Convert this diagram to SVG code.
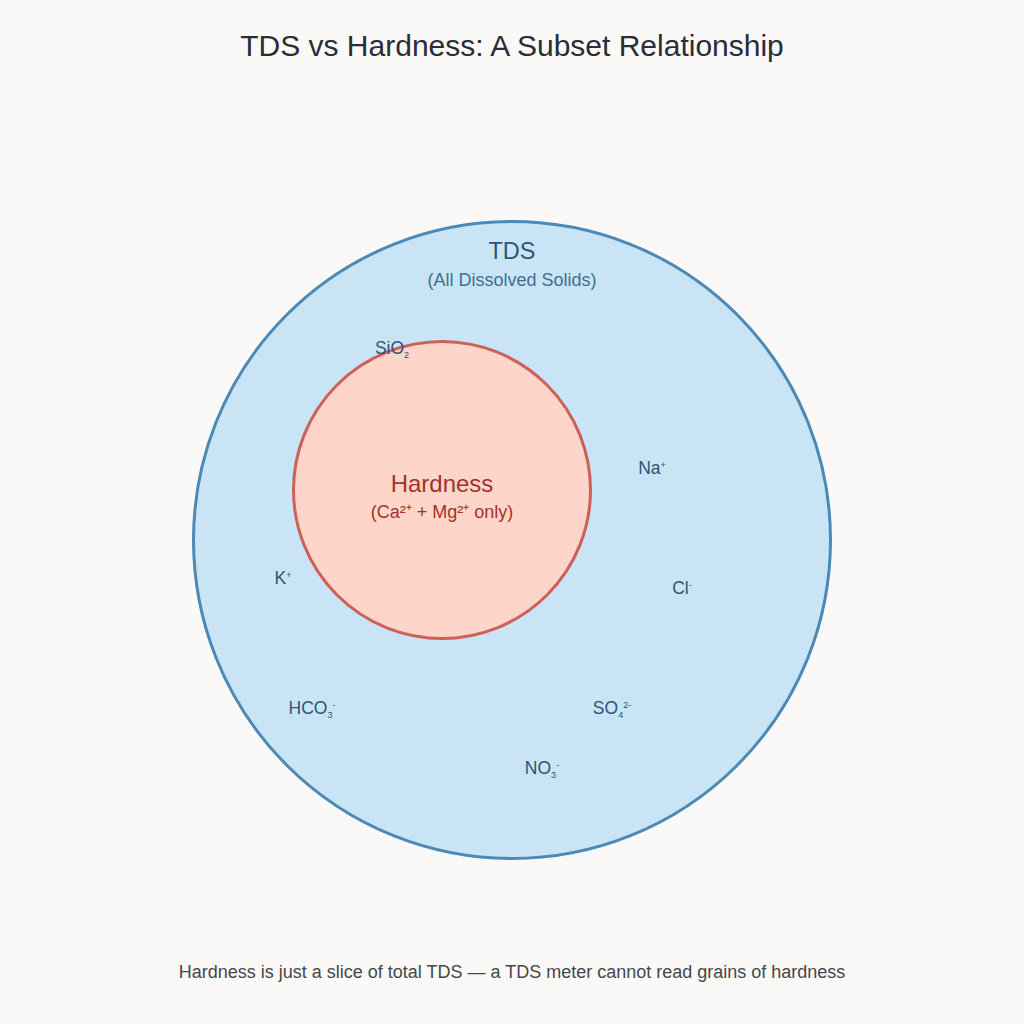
<svg xmlns="http://www.w3.org/2000/svg" width="1024" height="1024" viewBox="0 0 1024 1024">
<style>
text{font-family:"Liberation Sans",Arial,sans-serif;text-anchor:middle}
.title{font-size:30px;fill:#2a2d38}
.tds{font-size:23.5px;fill:#2b5777}
.tdss{font-size:18px;fill:#3f6f94}
.hd{font-size:24px;fill:#a3322b}
.hds{font-size:18px;fill:#a3322b}
.ion{font-size:17.5px;fill:#2e5473}
.s{font-size:9px}
.foot{font-size:18px;fill:#44474d}
</style>
<rect width="1024" height="1024" fill="#faf9f7"/>
<text class="title" x="512" y="56">TDS vs Hardness: A Subset Relationship</text>
<g id="tds">
<circle cx="512" cy="540" r="318.5" fill="#c9e5f5" stroke="#4b89b6" stroke-width="3"/>
<text class="tds" x="512" y="259">TDS</text>
<text class="tdss" x="512" y="286">(All Dissolved Solids)</text>
</g>
<g id="hardness">
<circle cx="442" cy="490" r="148.5" fill="#fdd5c9" stroke="#cd6157" stroke-width="3"/>
<text class="hd" x="442" y="492">Hardness</text>
<text class="hds" x="442" y="518">(Ca²⁺ + Mg²⁺ only)</text>
</g>
<g id="ions">
<text class="ion" x="392" y="354">SiO<tspan class="s" dy="4">2</tspan></text>
<text class="ion" x="652" y="474">Na<tspan class="s" dy="-6">+</tspan></text>
<text class="ion" x="283" y="584">K<tspan class="s" dy="-6">+</tspan></text>
<text class="ion" x="682" y="594">Cl<tspan class="s" dy="-6">-</tspan></text>
<text class="ion" x="312" y="714">HCO<tspan class="s" dy="4">3</tspan><tspan class="s" dy="-10">-</tspan></text>
<text class="ion" x="612" y="714">SO<tspan class="s" dy="4">4</tspan><tspan class="s" dy="-10">2-</tspan></text>
<text class="ion" x="542" y="774">NO<tspan class="s" dy="4">3</tspan><tspan class="s" dy="-10">-</tspan></text>
</g>
<text class="foot" x="512" y="978">Hardness is just a slice of total TDS — a TDS meter cannot read grains of hardness</text>
</svg>
